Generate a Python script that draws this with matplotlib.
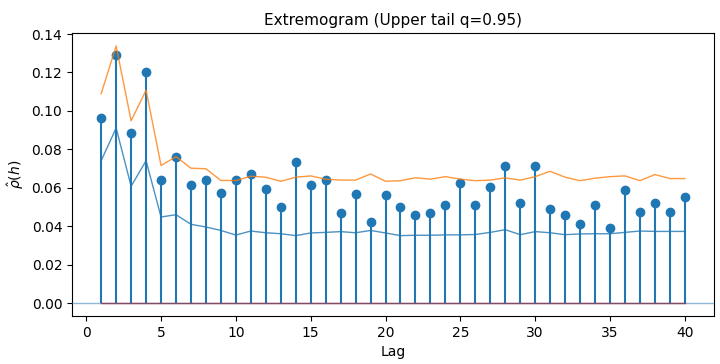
import numpy as np
import matplotlib
matplotlib.use("Agg")
import matplotlib.pyplot as plt

lags = np.arange(1, 41)

rho = [0.0963, 0.1290, 0.0887, 0.1203, 0.0638, 0.0759, 0.0615, 0.0638, 0.0572, 0.0638,
       0.0672, 0.0595, 0.0500, 0.0733, 0.0617, 0.0638, 0.0467, 0.0570, 0.0423, 0.0562,
       0.0500, 0.0456, 0.0467, 0.0510, 0.0627, 0.0508, 0.0603, 0.0716, 0.0520, 0.0716,
       0.0489, 0.0456, 0.0413, 0.0510, 0.0390, 0.0586, 0.0475, 0.0520, 0.0475, 0.0551]

upper = [0.1090, 0.1338, 0.0949, 0.1108, 0.0716, 0.0762, 0.0702, 0.0699, 0.0638, 0.0638,
         0.0660, 0.0655, 0.0634, 0.0655, 0.0662, 0.0645, 0.0640, 0.0640, 0.0672, 0.0634,
         0.0637, 0.0652, 0.0645, 0.0658, 0.0645, 0.0637, 0.0640, 0.0652, 0.0640, 0.0658,
         0.0686, 0.0655, 0.0637, 0.0650, 0.0658, 0.0662, 0.0637, 0.0669, 0.0648, 0.0648]

lower = [0.0741, 0.0911, 0.0608, 0.0741, 0.0448, 0.0460, 0.0410, 0.0396, 0.0378, 0.0354,
         0.0375, 0.0366, 0.0361, 0.0351, 0.0365, 0.0368, 0.0372, 0.0366, 0.0378, 0.0365,
         0.0351, 0.0353, 0.0353, 0.0355, 0.0355, 0.0357, 0.0368, 0.0382, 0.0356, 0.0372,
         0.0366, 0.0356, 0.0360, 0.0361, 0.0361, 0.0368, 0.0375, 0.0373, 0.0373, 0.0373]

fig = plt.figure(figsize=(7.2, 3.64), dpi=100)
ax = fig.add_axes([0.1, 0.132, 0.8917, 0.777])

markers, stems, base = ax.stem(lags, rho)
base.set_linewidth(1)
ax.plot(lags, lower, color='C0', lw=1, alpha=0.8)
ax.plot(lags, upper, color='C1', lw=1, alpha=0.8)
ax.axhline(0, color='C0', lw=1, alpha=0.5, zorder=3)

ax.set_title("Extremogram (Upper tail q=0.95)", fontsize=11)
ax.set_xlabel("Lag")
ax.set_ylabel(r"$\hat{\rho}(h)$")

fig.savefig("out.png", dpi=100)
